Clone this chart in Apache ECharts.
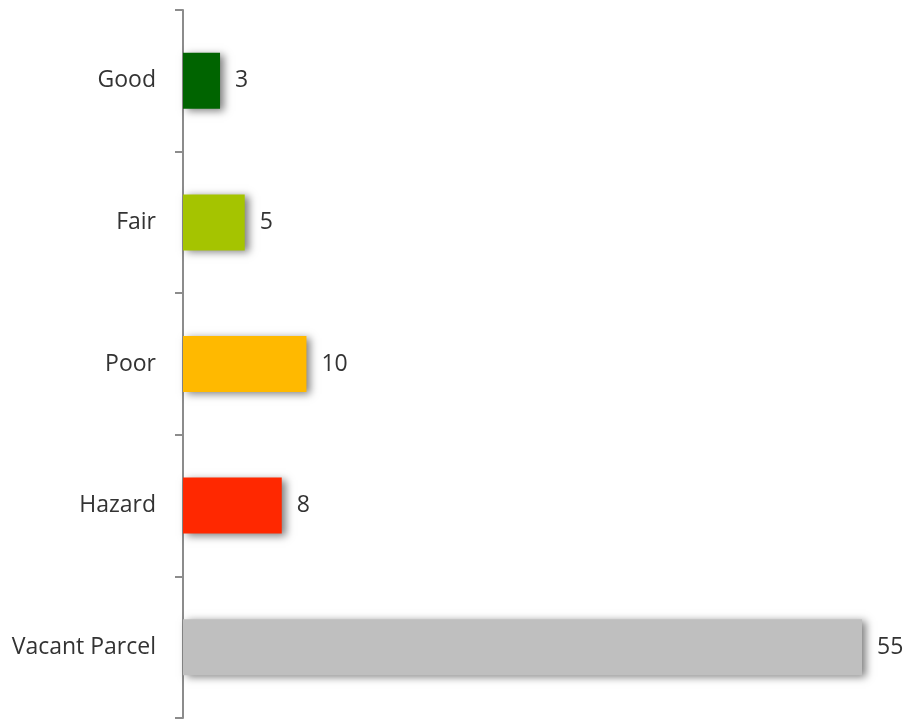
<!DOCTYPE html>
<html><head><meta charset="utf-8">
<script src="https://cdn.jsdelivr.net/npm/echarts@6/dist/echarts.min.js"></script>
<style>html,body{margin:0;padding:0;background:#fff}#c{width:907px;height:720px}</style>
</head><body><div id="c"></div>
<script>
const categories = ["Good", "Fair", "Poor", "Hazard", "Vacant Parcel"];
const values = [3, 5, 10, 8, 55];
const colors = ["#006400", "#A5C400", "#FFB900", "#FF2800", "#BFBFBF"];

const chart = echarts.init(document.getElementById('c'));
chart.setOption({
  animation: false,
  grid: { left: 183, right: 45, top: 10, bottom: 2, containLabel: false },
  xAxis: { type: 'value', min: 0, max: 55, show: false },
  yAxis: {
    type: 'category', data: categories, inverse: true,
    axisLine: { lineStyle: { color: '#8c8c8c', width: 2 } },
    axisTick: { show: true, length: 8, lineStyle: { color: '#8c8c8c', width: 2 } },
    axisLabel: { color: '#333333', fontSize: 23, fontFamily: 'Open Sans', margin: 27 }
  },
  series: [{
    type: 'bar',
    data: values.map((v, i) => ({ value: v, itemStyle: { color: colors[i] } })),
    barWidth: 56,
    itemStyle: { shadowBlur: 8, shadowOffsetX: 4, shadowOffsetY: 2, shadowColor: 'rgba(0,0,0,0.5)' },
    label: { show: true, position: 'right', distance: 15, color: '#333333', fontSize: 23, fontFamily: 'Open Sans' }
  }]
});
</script></body></html>
